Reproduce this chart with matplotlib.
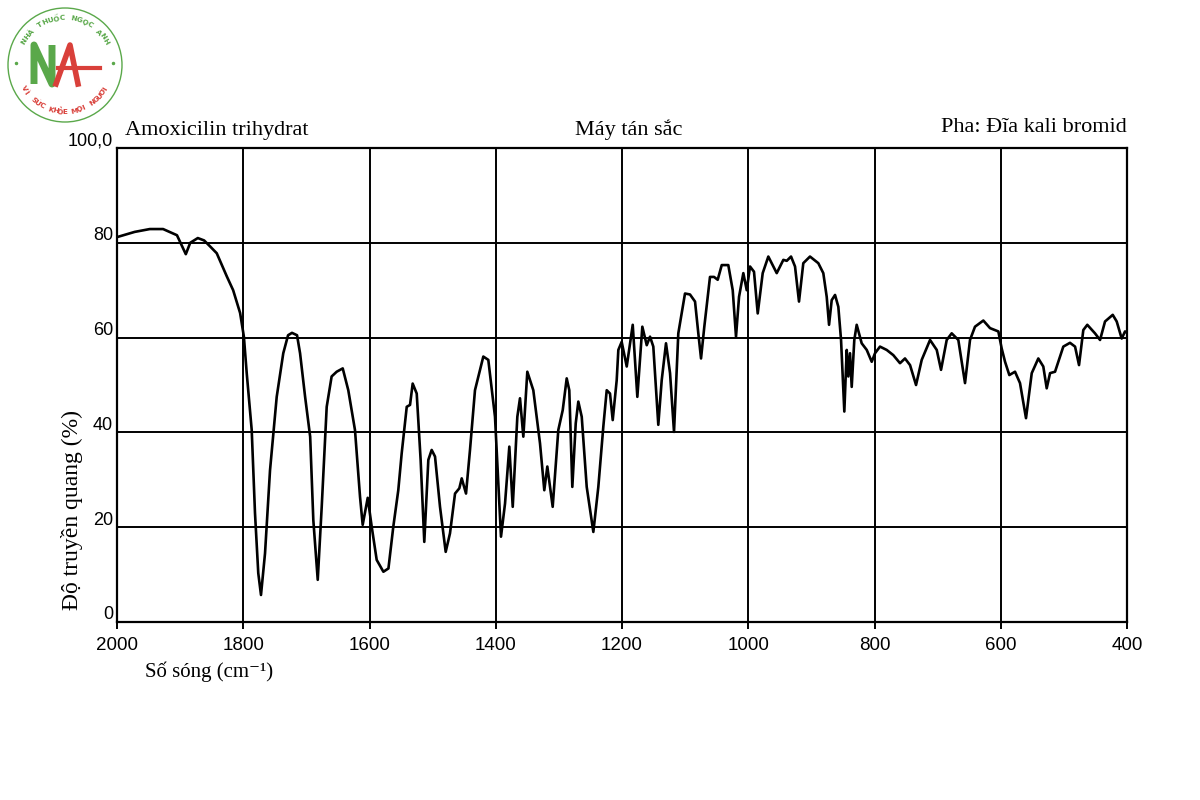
import numpy as np
import matplotlib
matplotlib.use("Agg")
import matplotlib.pyplot as plt
from matplotlib.patches import Circle
import matplotlib.transforms as mtransforms

# ---- data ----
wavenumber = [2000, 1972, 1948, 1927, 1905, 1891, 1884, 1872, 1862, 1853, 1842, 1826, 1816, 1805, 1799,
              1794.5, 1786.6, 1781.4, 1776.2, 1771.9, 1765.5, 1757.6, 1747, 1736.6, 1729, 1722.8, 1714.8,
              1710, 1702, 1694, 1689, 1682, 1675.7, 1667.8, 1660, 1652, 1642.4, 1633.6, 1623, 1615,
              1610.8, 1602.8, 1596.5, 1588.6, 1578, 1570, 1562.3, 1554.4, 1549, 1541, 1535.8, 1531.6,
              1525.2, 1519, 1513.2, 1506.8, 1501.5, 1496.2, 1488.3, 1479.3, 1472.5, 1464.5, 1457.7,
              1453.9, 1447.1, 1440.8, 1432.9, 1419.7, 1411.8, 1401.2, 1391.7, 1385.3, 1378.5, 1373.1,
              1365.8, 1361.6, 1356.3, 1350, 1340.5, 1329.9, 1323.1, 1318.3, 1309.8, 1300.9, 1293.9,
              1287.6, 1283.5, 1278.7, 1273.3, 1269.2, 1263.8, 1255.9, 1245.4, 1237.5, 1229.6, 1224.2,
              1219, 1214.7, 1208.4, 1205.8, 1200.5, 1192.5, 1183, 1175.7, 1167.8, 1160.8, 1155.6,
              1150.4, 1142.5, 1137.1, 1130.3, 1123.9, 1117.6, 1110.8, 1100.2, 1092.3, 1084.3, 1079.1,
              1074.8, 1069.6, 1060.6, 1054.2, 1048.4, 1042, 1031.6, 1024.6, 1019.4, 1014.6, 1007.8,
              1002.4, 997.2, 990.9, 985, 977.1, 968.2, 954.9, 944.4, 939, 932.2, 925.9, 919.6, 912.8,
              902.2, 889, 881.1, 875.7, 872, 867.8, 862.5, 857.3, 853, 847.8, 844, 841.5, 838.8, 836.1,
              832, 828.2, 820.3, 812.3, 804.4, 799.2, 791.3, 780.7, 770.2, 759.6, 751.7, 743.7, 734.2,
              725.2, 712, 701.4, 694.6, 685.6, 677.7, 667.2, 656.6, 648.7, 640.8, 627.6, 617, 603.8,
              598.5, 593.2, 586.4, 577.4, 569.5, 560, 550.9, 540.5, 532.6, 527.2, 521.9, 514, 500.9,
              490.3, 482.3, 476, 469.2, 462.9, 450.7, 442.7, 434.8, 422.6, 416.3, 408.4, 403.1, 400]
transmittance = [81.2, 82.3, 82.9, 82.9, 81.6, 77.6, 80.0, 81.0, 80.5, 79.3, 77.8, 72.9, 70.0, 65.2, 60.2,
                 52.5, 40.5, 23.0, 10.3, 5.7, 14.5, 32.0, 47.5, 56.7, 60.5, 61.0, 60.5,
                 56.7, 47.5, 39.1, 21.5, 8.9, 24.3, 45.4, 51.8, 52.8, 53.5, 48.9, 40.5, 26.4,
                 20.5, 26.2, 20.1, 13.1, 10.6, 11.3, 20.1, 27.8, 35.6, 45.4, 45.8, 50.3,
                 48.2, 34.2, 16.9, 34.2, 36.3, 34.9, 24.3, 14.8, 18.7, 27.1, 28.2,
                 30.3, 27.1, 36.3, 48.9, 56.0, 55.3, 43.3, 18.0, 25.0, 37.0, 24.3,
                 43.3, 47.2, 39.1, 52.8, 48.9, 37.7, 27.8, 32.8, 24.3, 40.5, 44.7,
                 51.4, 48.9, 28.5, 41.9, 46.5, 43.3, 28.5, 19.0, 28.5, 41.2, 48.9,
                 48.2, 42.6, 51.0, 57.4, 59.1, 53.9, 62.7, 47.5, 62.3, 58.4, 60.2,
                 58.1, 41.6, 51.0, 58.8, 52.5, 40.1, 60.9, 69.3, 69.1, 67.6, 60.9,
                 55.6, 62.3, 72.8, 72.8, 72.2, 75.3, 75.3, 70.0, 60.2, 68.6, 73.6,
                 70.0, 75.0, 73.9, 65.1, 73.6, 77.1, 73.6, 76.4, 76.2, 77.1, 75.0, 67.6, 75.7,
                 77.1, 75.7, 73.6, 68.6, 62.7, 67.9, 69.0, 66.5, 59.5, 44.4, 57.4, 51.8, 56.7, 49.6,
                 59.5, 62.7, 58.8, 57.4, 54.9, 56.7, 58.1, 57.4, 56.3, 54.6, 55.6, 54.2, 50.0,
                 55.3, 59.5, 57.4, 53.2, 59.5, 60.9, 59.5, 50.4, 59.5, 62.3, 63.6, 62.0, 61.3,
                 57.7, 54.9, 52.1, 52.8, 50.4, 43.0, 52.5, 55.6, 53.9, 49.3, 52.5, 52.8, 58.1,
                 58.9, 58.1, 54.2, 61.6, 62.7, 60.9, 59.5, 63.4, 64.8, 63.4, 59.8, 61.3, 61.0]

x_ticks = [2000, 1800, 1600, 1400, 1200, 1000, 800, 600, 400]
y_ticks = [0, 20, 40, 60, 80, 100]
y_tick_labels = ["0", "20", "40", "60", "80", "100,0"]

title_left = "Amoxicilin trihydrat"
title_center = "Máy tán sắc"
title_right = "Pha: Đĩa kali bromid"
x_label = "Số sóng (cm⁻¹)"
y_label = "Độ truyền quang (%)"

SERIF = ["Liberation Serif", "DejaVu Serif"]
SANS = ["Liberation Sans", "DejaVu Sans"]

fig = plt.figure(figsize=(12, 8), dpi=100)
ax = fig.add_axes([117/1200, 1-622/800, (1127-117)/1200, (622-148)/800])

ax.plot(wavenumber, transmittance, color="black", lw=1.9, solid_joinstyle="round")
ax.set_xlim(2000, 400)
ax.set_ylim(0, 100)
ax.set_xticks(x_ticks)
ax.set_yticks(y_ticks)
ax.grid(True, color="black", lw=1.4)
for s in ax.spines.values():
    s.set_linewidth(1.6)
    s.set_color("black")
ax.tick_params(axis="x", direction="out", length=5, width=1.4, pad=6)
ax.tick_params(axis="y", length=0)
ax.set_xticklabels([str(t) for t in x_ticks], fontfamily=SANS, fontsize=13.5)
ax.set_yticklabels([])

trans = mtransforms.blended_transform_factory(ax.transAxes, ax.transData)
for v, lab in zip(y_ticks, y_tick_labels):
    ax.text(-0.004, v - 0.3, lab, transform=trans, ha="right", va="bottom",
            fontfamily=SANS, fontsize=13)

fig.text(125/1200, 1-130/800, title_left, ha="left", va="center", fontfamily=SERIF, fontsize=16)
fig.text(629/1200, 1-130/800, title_center, ha="center", va="center", fontfamily=SERIF, fontsize=16)
fig.text(1127/1200, 1-128/800, title_right, ha="right", va="center", fontfamily=SERIF, fontsize=16)
fig.text(145/1200, 1-672/800, x_label, ha="left", va="center", fontfamily=SERIF, fontsize=15)
fig.text(72/1200, 1-510/800, y_label, ha="center", va="center", rotation=90,
         fontfamily=SERIF, fontsize=17)

# ---- watermark logo (top-left) ----
lax = fig.add_axes([0, 1-130/800, 130/1200, 130/800])
lax.set_xlim(0, 130)
lax.set_ylim(130, 0)
lax.set_aspect("equal")
lax.axis("off")
green = "#5aa84a"
red = "#d9403a"
lax.add_patch(Circle((65, 65), 57, fill=False, ec=green, lw=1.0))
lax.plot([34, 34, 52, 52], [84, 45, 84, 45], color=green, lw=5, solid_capstyle="butt")
lax.plot([56, 70, 78], [84, 45, 84], color=red, lw=4)
lax.plot([58, 100], [68, 68], color=red, lw=3)
lax.plot([16], [63], color=green, marker="o", ms=1.5, ls="none")
lax.plot([113], [63], color=green, marker="o", ms=1.5, ls="none")

def arc_text(text, r, a0, a1, color, top=True, fs=5.2):
    n = len(text)
    angs = np.linspace(a0, a1, n)
    for ch, a in zip(text, angs):
        ar = np.deg2rad(a)
        x = 65 + r * np.cos(ar)
        y = 65 - r * np.sin(ar)
        rot = a - 90 if top else a + 90
        lax.text(x, y, ch, color=color, fontsize=fs, fontweight="bold",
                 ha="center", va="center", rotation=rot, fontfamily="DejaVu Sans")

arc_text("NHÀ THUỐC NGỌC ANH", 47, 150, 30, green, top=True)
arc_text("VÌ SỨC KHỎE MỌI NGƯỜI", 47, 210, 330, red, top=False)

fig.savefig("out.png", dpi=100, facecolor="white")
